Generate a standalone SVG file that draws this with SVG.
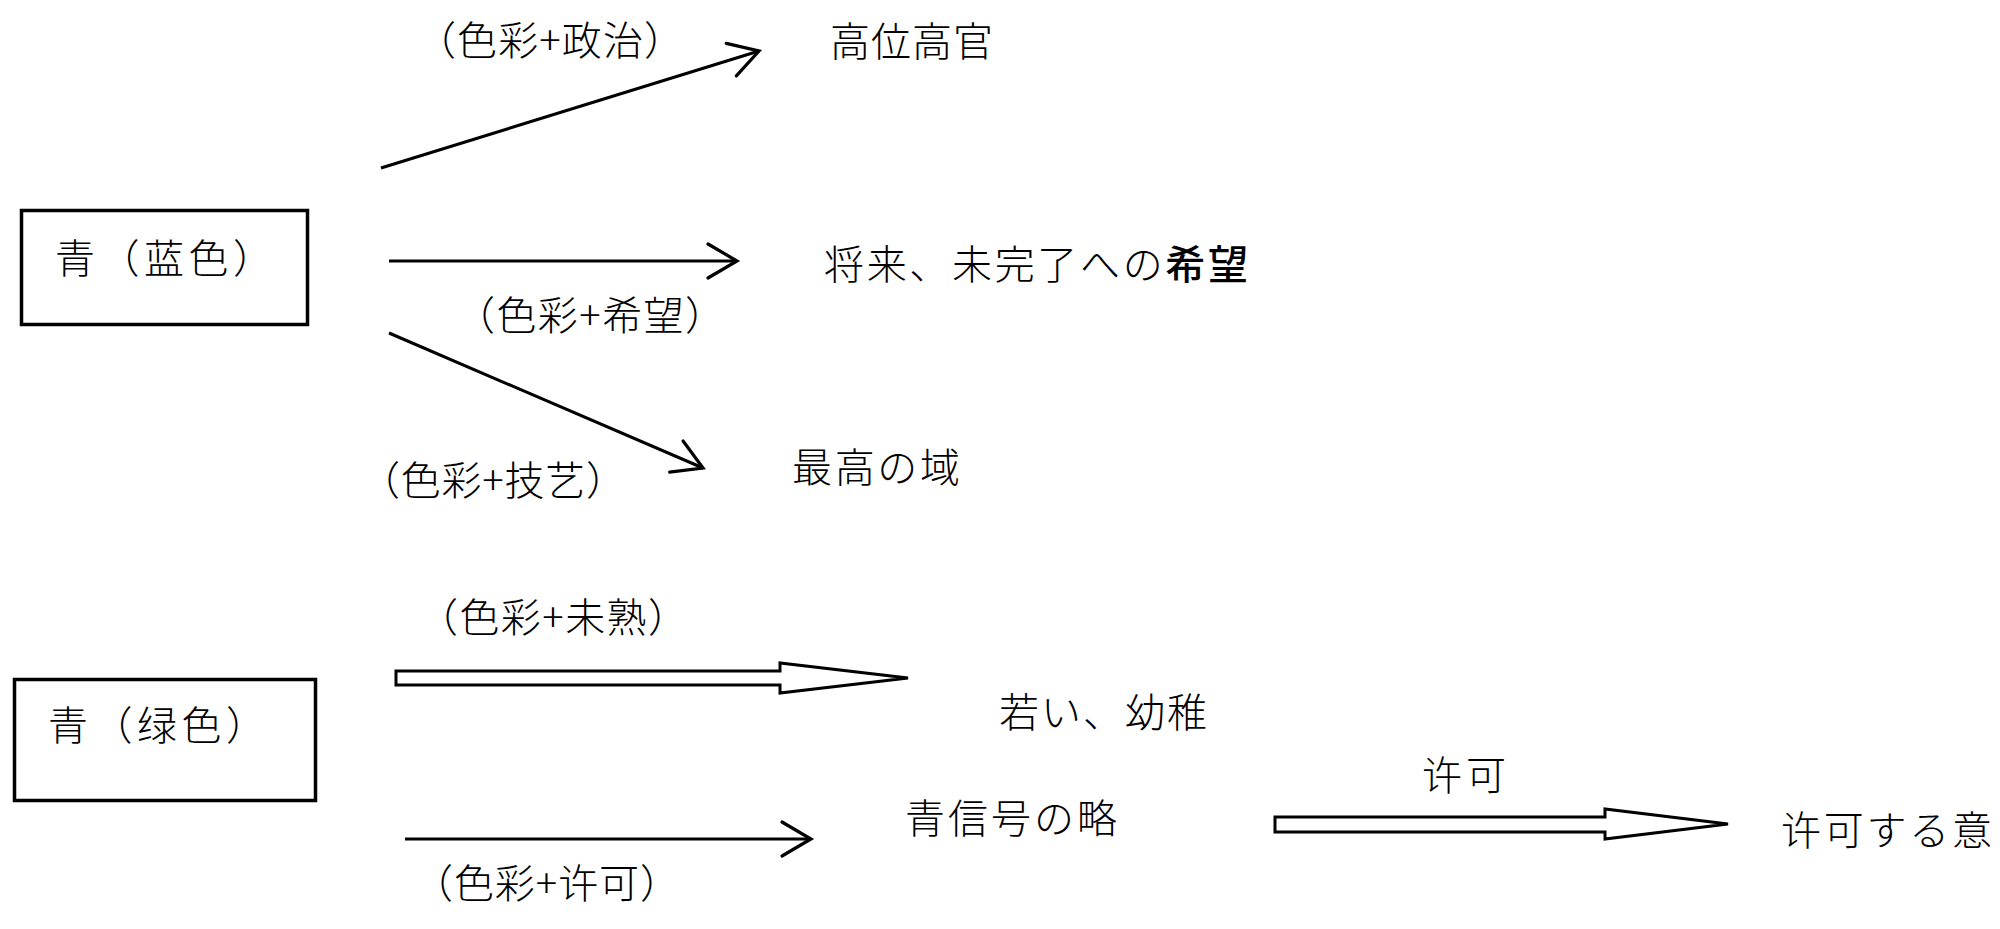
<svg xmlns="http://www.w3.org/2000/svg" width="2000" height="929" viewBox="0 0 2000 929">
<style>
  .t { font-family: "Noto Sans CJK JP", "Noto Sans CJK SC", sans-serif; font-size: 40px; font-weight: 300; fill: #000; }
  .b { font-weight: 500; }
  .box { fill: #fff; stroke: #000; stroke-width: 3.5; }
  .ln { fill: none; stroke: #000; stroke-width: 3; marker-end: url(#open); }
  .hollow { fill: #fff; stroke: #000; stroke-width: 3; stroke-linejoin: miter; }
</style>
<defs>
  <marker id="open" markerUnits="userSpaceOnUse" markerWidth="60" markerHeight="60" refX="0" refY="0" viewBox="-40 -30 50 60" orient="auto" overflow="visible">
    <path d="M -29,-17 L 0,0 L -29,17" fill="none" stroke="#000" stroke-width="3.2" stroke-linecap="round" stroke-linejoin="miter"/>
  </marker>
</defs>
<rect width="2000" height="929" fill="#fff"/>

<g id="node-blue">
  <rect class="box" x="21.5" y="210.5" width="286" height="114"/>
  <text class="t" x="55" y="273" textLength="218">青（蓝色）</text>
</g>
<g id="node-green">
  <rect class="box" x="14.5" y="679.5" width="301" height="121"/>
  <text class="t" x="48" y="740" textLength="218">青（绿色）</text>
</g>
<g id="node-koui">
  <text class="t" x="830" y="56" textLength="163">高位高官</text>
</g>
<g id="node-kibou">
  <text class="t" x="824" y="279" textLength="424">将来、未完了への<tspan class="b">希望</tspan></text>
</g>
<g id="node-saikou">
  <text class="t" x="792" y="482" textLength="168">最高の域</text>
</g>
<g id="node-wakai">
  <text class="t" x="999" y="727" textLength="208">若い、幼稚</text>
</g>
<g id="node-aoshingou">
  <text class="t" x="905" y="833" textLength="212">青信号の略</text>
</g>
<g id="node-kyoka">
  <text class="t" x="1781" y="845" textLength="211">许可する意</text>
</g>

<g id="connectors">
  <line class="ln" x1="381" y1="168" x2="759" y2="51"/>
  <line class="ln" x1="389" y1="261" x2="737" y2="261"/>
  <line class="ln" x1="389" y1="333" x2="703" y2="468"/>
  <line class="ln" x1="405" y1="839" x2="811" y2="839"/>
  <polygon class="hollow" points="396,671 780,671 780,663 908,678 780,693 780,685 396,685"/>
  <polygon class="hollow" points="1275,817 1605,817 1605,809 1728,824 1605,839 1605,832 1275,832"/>
</g>

<g id="labels">
  <text class="t" x="416" y="55" textLength="268">（色彩+政治）</text>
  <text class="t" x="455" y="330" textLength="270">（色彩+希望）</text>
  <text class="t" x="360" y="495" textLength="266">（色彩+技艺）</text>
  <text class="t" x="418" y="632" textLength="270">（色彩+未熟）</text>
  <text class="t" x="413" y="898" textLength="267">（色彩+许可）</text>
  <text class="t" x="1422" y="790" textLength="84">许可</text>
</g>
</svg>
